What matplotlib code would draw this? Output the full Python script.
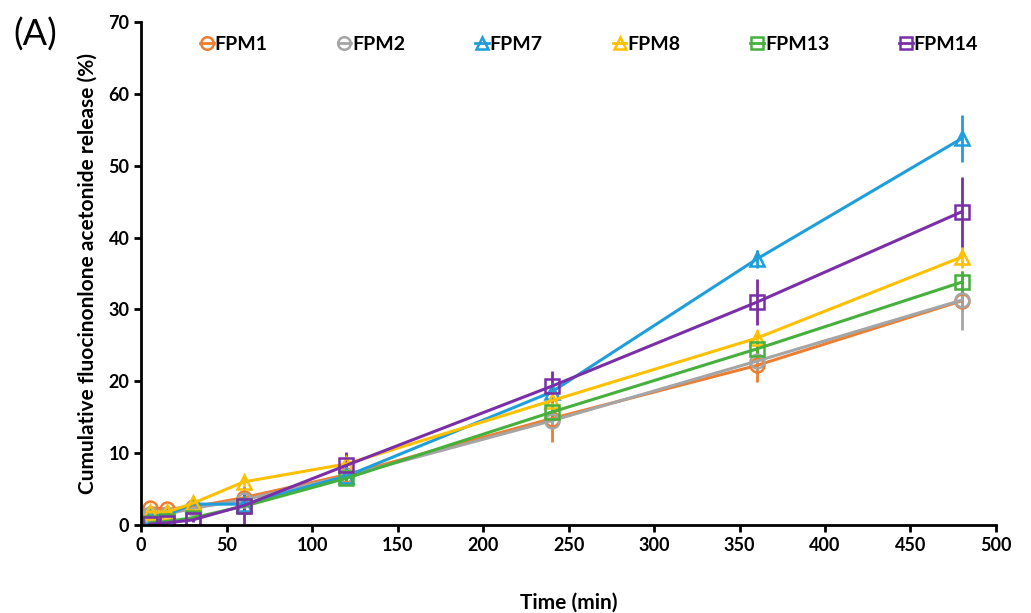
#!/usr/bin/env python3
"""Cumulative fluocinolone acetonide release from FPM formulations."""

import matplotlib.pyplot as plt
from matplotlib.lines import Line2D

plt.rcParams["font.family"] = ["Lato", "DejaVu Sans"]

TIME = [5, 15, 30, 60, 120, 240, 360, 480]

# mean release (%) and SD per formulation
FPM1 = [2.4, 2.2, 2.5, 3.8, 7.0, 14.8, 22.2, 31.2]
FPM1_SD = [0.3, 0.3, 0.4, 0.6, 0.8, 3.2, 2.3, 1.5]
FPM2 = [1.5, 1.5, 2.3, 3.5, 6.8, 14.5, 22.8, 31.3]
FPM2_SD = [0.3, 0.3, 0.4, 0.6, 0.7, 1.0, 1.2, 4.1]
FPM7 = [1.2, 1.4, 2.9, 2.9, 6.8, 18.5, 37.0, 53.8]
FPM7_SD = [0.3, 0.3, 0.4, 0.5, 0.8, 1.0, 1.3, 3.3]
FPM8 = [1.8, 1.8, 3.0, 6.0, 8.5, 17.3, 26.0, 37.3]
FPM8_SD = [0.3, 0.3, 0.5, 0.7, 0.9, 0.8, 1.2, 1.5]
FPM13 = [0.3, 0.5, 1.0, 2.6, 6.5, 15.7, 24.5, 33.8]
FPM13_SD = [0.2, 0.2, 0.3, 0.5, 1.0, 0.8, 1.0, 1.6]
FPM14 = [0.1, 0.3, 0.7, 2.7, 8.3, 19.3, 31.0, 43.6]
FPM14_SD = [0.1, 0.2, 0.3, 2.6, 1.9, 2.2, 3.2, 4.9]

# (label, mean, sd, marker, color)
SERIES = (
    ("FPM1", FPM1, FPM1_SD, "o", "#ED7D31"),
    ("FPM2", FPM2, FPM2_SD, "o", "#A5A5A5"),
    ("FPM7", FPM7, FPM7_SD, "^", "#1E9FDB"),
    ("FPM8", FPM8, FPM8_SD, "^", "#FFC000"),
    ("FPM13", FPM13, FPM13_SD, "s", "#45B03C"),
    ("FPM14", FPM14, FPM14_SD, "s", "#7A2FA8"),
)


def main() -> None:
    fig = plt.figure(figsize=(10.31, 6.13), dpi=100)
    ax = fig.add_axes([0.137, 0.1436, 0.829, 0.8204])

    handles = []
    for label, y, sd, marker, color in SERIES:
        ax.errorbar(
            TIME, y, yerr=sd, color=color, linewidth=2.2, elinewidth=2.0,
            capsize=0, marker=marker, markersize=10, markeredgewidth=1.8,
            markerfacecolor="none",
        )
        handles.append(Line2D(
            [], [], color=color, linewidth=2.0, marker=marker, markersize=9,
            markeredgewidth=1.8, markerfacecolor="none", label=label,
        ))

    ax.set_xlim(0, 500)
    ax.set_ylim(0, 70)
    ax.set_xticks(range(0, 501, 50))
    ax.set_yticks(range(0, 71, 10))
    for side in ("top", "right"):
        ax.spines[side].set_visible(False)
    for side in ("left", "bottom"):
        ax.spines[side].set_linewidth(2.0)
    ax.tick_params(direction="out", length=5, width=2.0, labelsize=13)
    for t in ax.get_xticklabels() + ax.get_yticklabels():
        t.set_fontweight("bold")

    ax.set_xlabel("Time (min)", fontsize=15, fontweight="bold", labelpad=28)
    ax.set_ylabel("Cumulative fluocinonlone acetonide release (%)",
                  fontsize=15, fontweight="bold", labelpad=8)

    ax.legend(
        handles=handles, loc="center", bbox_to_anchor=(0.524, 0.956), ncol=6,
        frameon=False, prop={"weight": "bold", "size": 14}, handlelength=0.7,
        handletextpad=0.05, columnspacing=3.6,
    )

    fig.text(0.013, 0.925, "(A)", fontsize=26)
    fig.savefig("out.png", dpi=100)


if __name__ == "__main__":
    main()
